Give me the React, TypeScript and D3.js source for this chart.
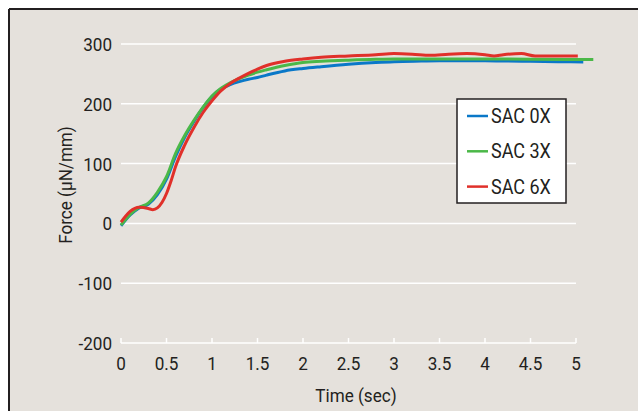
import React from "react";
import * as d3 from "d3";

const tBlue = [0, 0.1, 0.2, 0.3, 0.4, 0.5, 0.6, 0.7, 0.8, 0.9, 1.0, 1.1, 1.2, 1.3, 1.4, 1.5, 1.6, 1.8, 2.0, 2.2, 2.5, 2.8, 3.0, 3.3, 3.5, 3.8, 4.0, 4.2, 4.5, 4.8, 5.08];
const vBlue = [-4, 14, 26, 32, 48, 74, 112, 144, 170, 193, 212, 225, 232, 237, 241, 244, 248, 255, 259, 262, 266, 269, 270.5, 271.5, 272, 272, 272, 271.5, 271, 270.5, 270];

const tGreen = [0, 0.1, 0.2, 0.3, 0.4, 0.5, 0.6, 0.7, 0.8, 0.9, 1.0, 1.1, 1.2, 1.3, 1.4, 1.5, 1.6, 1.8, 2.0, 2.2, 2.5, 2.8, 3.0, 3.5, 4.0, 4.5, 5.0, 5.19];
const vGreen = [-3, 15, 27, 34, 52, 78, 117, 147, 172, 194, 213, 226, 235, 242, 248, 253, 257, 264, 269, 271, 273, 274.5, 275, 275, 275, 274.5, 274, 274];

const tRed = [0, 0.05, 0.1, 0.2, 0.3, 0.35, 0.4, 0.45, 0.5, 0.55, 0.6, 0.7, 0.8, 0.9, 1.0, 1.1, 1.2, 1.3, 1.4, 1.5, 1.6, 1.8, 2.0, 2.2, 2.5, 2.8, 3.0, 3.2, 3.4, 3.6, 3.8, 4.0, 4.1, 4.2, 4.4, 4.55, 4.8, 5.02];
const vRed = [2, 12, 20, 27, 25, 23, 26, 35, 50, 71, 95, 131, 160, 185, 205, 222, 234, 243, 251, 258, 264, 271, 275, 278, 280, 282, 284, 283, 281, 283, 284, 282, 280, 282, 284, 280, 280, 280];

const seriesNames = ["SAC 0X", "SAC 3X", "SAC 6X"];
const seriesColors = ["#0a78c8", "#4bb848", "#e0302a"];
const xTicks = [0, 0.5, 1, 1.5, 2, 2.5, 3, 3.5, 4, 4.5, 5];
const yTicks = [-200, -100, 0, 100, 200, 300];

const W = 638;
const H = 411;
const FONT = "Roboto, 'Liberation Sans', sans-serif";
const TEXT = "#231f20";
const SX = 0.9;

function T({ x, y, anchor, children, rotate, size }: { x: number; y: number; anchor?: string; children: React.ReactNode; rotate?: boolean; size?: number }) {
  const tr = rotate ? `translate(${x},${y}) rotate(-90) scale(${SX},1)` : `translate(${x},${y}) scale(${SX},1)`;
  return (
    <text transform={tr} textAnchor={anchor || "start"} fontFamily={FONT} fontSize={size || 19} fill={TEXT}>
      {children}
    </text>
  );
}

export default function App() {
  const x = d3.scaleLinear().domain([0, 5]).range([121, 576]);
  const y = d3.scaleLinear().domain([-200, 300]).range([343, 44]);
  const line = d3
    .line<[number, number]>()
    .x((d) => x(d[0]))
    .y((d) => y(d[1]))
    .curve(d3.curveMonotoneX);
  const series = [
    tBlue.map((t, i) => [t, vBlue[i]] as [number, number]),
    tGreen.map((t, i) => [t, vGreen[i]] as [number, number]),
    tRed.map((t, i) => [t, vRed[i]] as [number, number]),
  ];
  const lx = 457;
  const ly = 99;
  return (
    <svg width={W} height={H} style={{ position: "absolute", left: 0, top: 0 }}>
      <rect x={0} y={0} width={W} height={H} fill="#ffffff" />
      <rect x={9} y={9} width={W - 9} height={H - 9} fill="#e5e1dc" />
      <line x1={9} x2={W} y1={9} y2={9} stroke={TEXT} strokeWidth={2} />
      <line x1={9} x2={9} y1={9} y2={H} stroke={TEXT} strokeWidth={2} />
      {yTicks.map((v) => (
        <g key={v}>
          <line x1={x(0)} x2={x(5)} y1={y(v)} y2={y(v)} stroke="#ffffff" strokeWidth={1.5} />
          <T x={112} y={y(v) + 7} anchor="end">
            {v}
          </T>
        </g>
      ))}
      {xTicks.map((t) => (
        <g key={t}>
          <line x1={x(t)} x2={x(t)} y1={y(-200)} y2={y(-200) - 5} stroke="#ffffff" strokeWidth={1.5} />
          <T x={x(t)} y={370} anchor="middle">
            {t}
          </T>
        </g>
      ))}
      <T x={356} y={402} anchor="middle">
        Time (sec)
      </T>
      <T x={72} y={185} anchor="middle" rotate>
        Force (μN/mm)
      </T>
      {series.map((s, i) => (
        <path key={i} d={line(s) || ""} fill="none" stroke={seriesColors[i]} strokeWidth={3} strokeLinejoin="round" />
      ))}
      <rect x={lx} y={ly} width={109} height={104} fill="#ffffff" stroke={TEXT} strokeWidth={1.5} />
      {seriesNames.map((n, i) => (
        <g key={n}>
          <line x1={467} x2={488} y1={116 + i * 35.3} y2={116 + i * 35.3} stroke={seriesColors[i]} strokeWidth={2.5} />
          <T x={491} y={116 + i * 35.3 + 7} size={20}>
            {n}
          </T>
        </g>
      ))}
    </svg>
  );
}
